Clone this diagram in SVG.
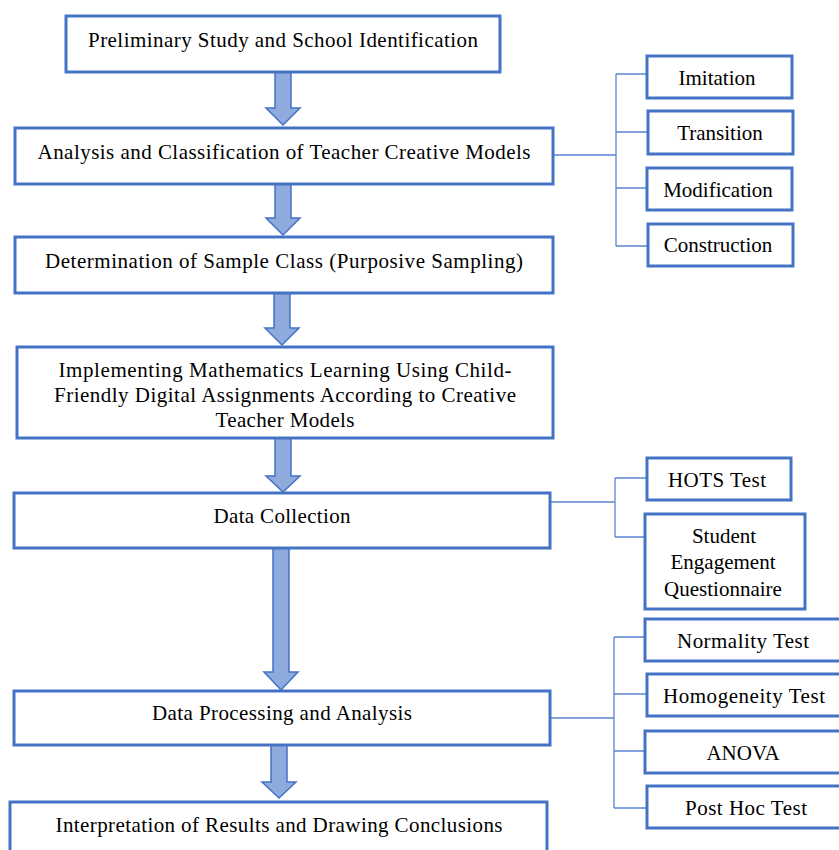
<svg xmlns="http://www.w3.org/2000/svg" width="839" height="850" viewBox="0 0 839 850">
  <style>
    .box { fill: #ffffff; stroke: #4472C4; stroke-width: 3; }
    .arrow { fill: #8FAADC; stroke: #4472C4; stroke-width: 1.5; stroke-linejoin: miter; }
    .link { fill: none; stroke: #5B84D0; stroke-width: 1.3; }
    text { font-family: "Liberation Serif", "Times New Roman", serif; font-size: 21px; fill: #000000; text-anchor: middle; }
  </style>
  <rect width="839" height="850" fill="#ffffff"/>

  <!-- flow arrows and bracket connectors -->
  <g id="connectors">
    <path class="arrow" d="M275,72 H291 V108 H300 L283,125 L266,108 H275 Z"/>
    <path class="arrow" d="M275,184 H291 V218 H300 L283,235 L266,218 H275 Z"/>
    <path class="arrow" d="M274,293 H290 V328 H299 L282,345 L265,328 H274 Z"/>
    <path class="arrow" d="M275,438 H291 V476 H300 L283,492 L266,476 H275 Z"/>
    <path class="arrow" d="M273,548 H289 V672 H298 L281,690 L264,672 H273 Z"/>
    <path class="arrow" d="M271,745 H287 V782 H296 L279,798 L262,782 H271 Z"/>

    <!-- creative models bracket -->
    <path class="link" d="M553,155 H616 M616,74 V246 M616,74 H647 M616,132 H648 M616,188 H647 M616,246 H648"/>
    <!-- data collection bracket -->
    <path class="link" d="M551,502 H615 M615,478 V537 M615,478 H647 M615,537 H645"/>
    <!-- data analysis bracket -->
    <path class="link" d="M550,718 H614 M614,637 V808 M614,637 H645 M614,694 H647 M614,751 H645 M614,808 H647"/>
  </g>

  <!-- main flow -->
  <g id="step-preliminary">
    <rect class="box" x="66" y="16" width="434" height="56"/>
    <text x="283" y="47" textLength="390" lengthAdjust="spacing">Preliminary Study and School Identification</text>
  </g>
  <g id="step-classification">
    <rect class="box" x="15" y="128" width="538" height="56"/>
    <text x="284" y="159" textLength="493" lengthAdjust="spacing">Analysis and Classification of Teacher Creative Models</text>
  </g>
  <g id="step-sampling">
    <rect class="box" x="15" y="237" width="538" height="56"/>
    <text x="284" y="268" textLength="478" lengthAdjust="spacing">Determination of Sample Class (Purposive Sampling)</text>
  </g>
  <g id="step-implementation">
    <rect class="box" x="17" y="347" width="536" height="91"/>
    <text x="285" y="377" textLength="453" lengthAdjust="spacing">Implementing Mathematics Learning Using Child-</text>
    <text x="285" y="402" textLength="462" lengthAdjust="spacing">Friendly Digital Assignments According to Creative</text>
    <text x="285" y="427" textLength="139" lengthAdjust="spacing">Teacher Models</text>
  </g>
  <g id="step-collection">
    <rect class="box" x="14" y="493" width="536" height="55"/>
    <text x="282" y="523" textLength="137" lengthAdjust="spacing">Data Collection</text>
  </g>
  <g id="step-analysis">
    <rect class="box" x="14" y="691" width="536" height="54"/>
    <text x="282" y="720" textLength="260" lengthAdjust="spacing">Data Processing and Analysis</text>
  </g>
  <g id="step-interpretation">
    <rect class="box" x="10" y="802" width="537" height="60"/>
    <text x="279" y="832" textLength="447" lengthAdjust="spacing">Interpretation of Results and Drawing Conclusions</text>
  </g>

  <!-- creative teacher models -->
  <g id="model-imitation">
    <rect class="box" x="647" y="56" width="145" height="42"/>
    <text x="717" y="85">Imitation</text>
  </g>
  <g id="model-transition">
    <rect class="box" x="648" y="111" width="145" height="43"/>
    <text x="720" y="140">Transition</text>
  </g>
  <g id="model-modification">
    <rect class="box" x="647" y="168" width="145" height="42"/>
    <text x="718" y="197">Modification</text>
  </g>
  <g id="model-construction">
    <rect class="box" x="648" y="224" width="145" height="42"/>
    <text x="718" y="252">Construction</text>
  </g>

  <!-- collection instruments -->
  <g id="instrument-hots">
    <rect class="box" x="647" y="458" width="144" height="42"/>
    <text x="717" y="487" textLength="98" lengthAdjust="spacing">HOTS Test</text>
  </g>
  <g id="instrument-questionnaire">
    <rect class="box" x="645" y="514" width="160" height="95"/>
    <text x="724" y="543">Student</text>
    <text x="723" y="569">Engagement</text>
    <text x="723" y="596">Questionnaire</text>
  </g>

  <!-- analysis tests -->
  <g id="test-normality">
    <rect class="box" x="645" y="619" width="200" height="42"/>
    <text x="743" y="648" textLength="132" lengthAdjust="spacing">Normality Test</text>
  </g>
  <g id="test-homogeneity">
    <rect class="box" x="647" y="674" width="200" height="42"/>
    <text x="744" y="703" textLength="162" lengthAdjust="spacing">Homogeneity Test</text>
  </g>
  <g id="test-anova">
    <rect class="box" x="645" y="731" width="200" height="42"/>
    <text x="743" y="760">ANOVA</text>
  </g>
  <g id="test-posthoc">
    <rect class="box" x="647" y="786" width="200" height="42"/>
    <text x="746" y="815" textLength="122" lengthAdjust="spacing">Post Hoc Test</text>
  </g>
</svg>
